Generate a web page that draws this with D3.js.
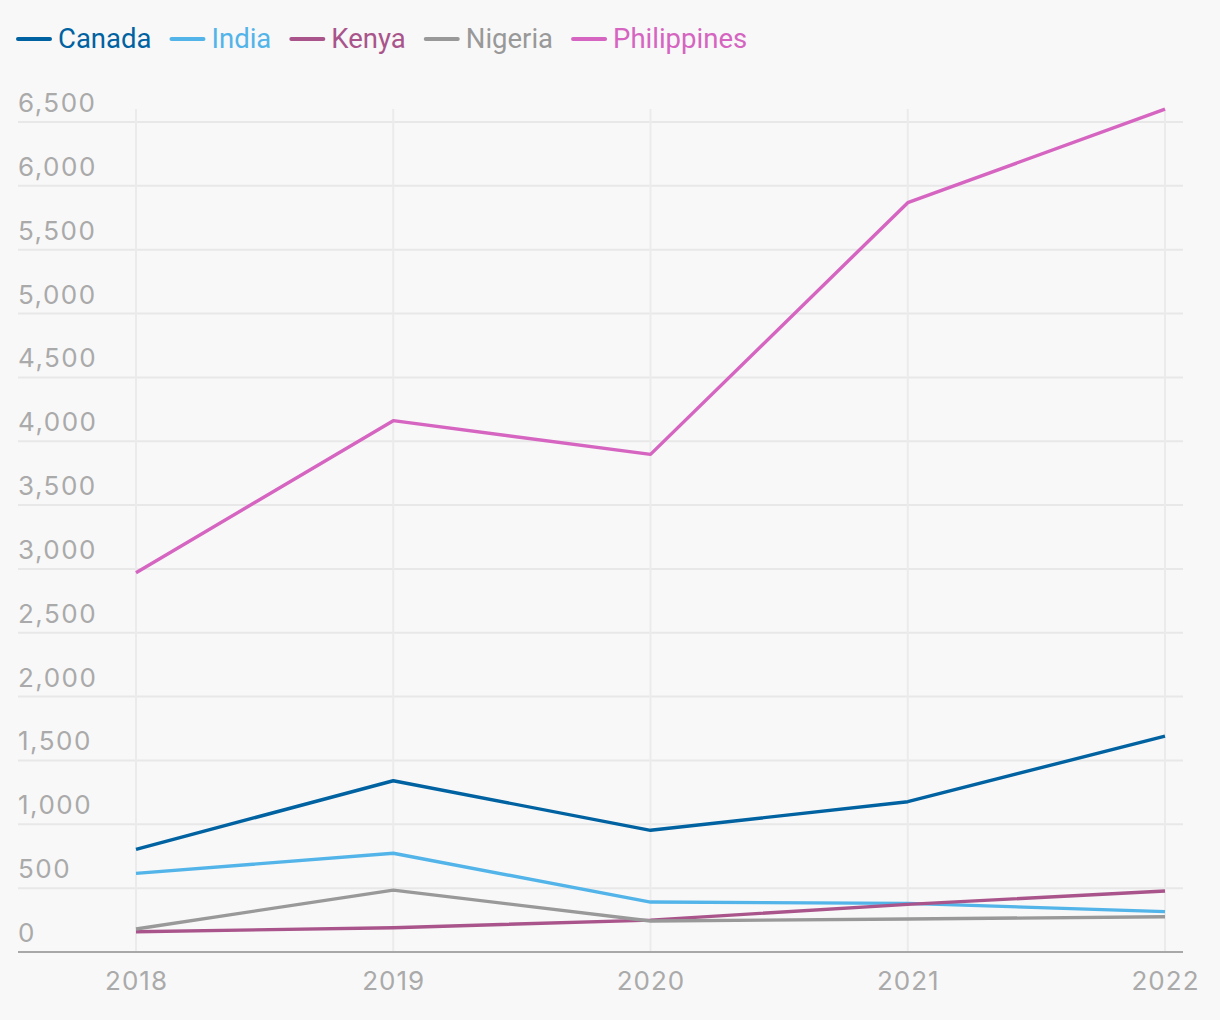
<!DOCTYPE html>
<html><head><meta charset="utf-8">
<script src="https://cdn.jsdelivr.net/npm/d3@7"></script>
<style>
html,body{margin:0;padding:0;background:#f8f8f8;}
svg{display:block;}
</style></head>
<body>
<svg id="chart" width="1220" height="1020"></svg>
<script>
const years = [2018, 2019, 2020, 2021, 2022];
const seriesNames = ["Canada", "India", "Kenya", "Nigeria", "Philippines"];
const canada = [804, 1341, 953, 1177, 1691];
const india = [616, 773, 391, 381, 316];
const kenya = [159, 190, 250, 373, 478];
const nigeria = [180, 485, 243, 258, 276];
const philippines = [2970, 4161, 3897, 5868, 6601];
const yTicks = [0, 500, 1000, 1500, 2000, 2500, 3000, 3500, 4000, 4500, 5000, 5500, 6000, 6500];
const colors = ["#0062a1", "#52b4e9", "#a9558b", "#999999", "#d565c0"];

const seriesValues = [canada, india, kenya, nigeria, philippines];
const series = seriesNames.map((n, i) => ({name: n, color: colors[i], values: years.map((y, j) => ({year: y, value: seriesValues[i][j]}))}));

const svg = d3.select("#chart");
svg.append("rect").attr("width", 1220).attr("height", 1020).attr("fill", "#f8f8f8");

const gridLeft = 18, gridRight = 1183;
const x = d3.scaleLinear().domain([2018, 2022]).range([136, 1165]);
const y = d3.scaleLinear().domain([0, 6500]).range([952, 122]);

const numFont = "Inter, 'Noto Sans', sans-serif";
const legFont = "Roboto, 'Noto Sans', sans-serif";

// horizontal grid
svg.append("g").selectAll("line").data(yTicks.filter(d => d > 0)).join("line")
  .attr("x1", gridLeft).attr("x2", gridRight)
  .attr("y1", d => y(d)).attr("y2", d => y(d))
  .attr("stroke", "#e8e8e8").attr("stroke-width", 2);
// vertical grid
svg.append("g").selectAll("line").data(years).join("line")
  .attr("x1", d => x(d)).attr("x2", d => x(d))
  .attr("y1", 109).attr("y2", 952)
  .attr("stroke", "#ebebeb").attr("stroke-width", 2);

// y labels
svg.append("g").selectAll("text").data(yTicks).join("text")
  .attr("x", gridLeft).attr("y", d => y(d) - 10)
  .attr("font-family", numFont).attr("font-size", 26).attr("letter-spacing", 1.5).attr("fill", "#aaaaaa")
  .text(d => d3.format(",")(d));

// baseline
svg.append("line").attr("x1", gridLeft).attr("x2", gridRight).attr("y1", y(0)).attr("y2", y(0))
  .attr("stroke", "#a8a8a8").attr("stroke-width", 2);

// x labels
const xAxis = d3.axisBottom(x).tickValues(years).tickFormat(d3.format("d")).tickSize(0).tickPadding(0);
const xg = svg.append("g").call(xAxis);
xg.select(".domain").remove();
xg.selectAll("text").attr("y", 990).attr("dy", null)
  .attr("font-family", numFont).attr("font-size", 26).attr("letter-spacing", 1).attr("fill", "#aaaaaa");

// lines
const line = d3.line().x(d => x(d.year)).y(d => y(d.value));
svg.append("g").selectAll("path").data(series).join("path")
  .attr("d", d => line(d.values)).attr("fill", "none")
  .attr("stroke", d => d.color).attr("stroke-width", 3.4)
  .attr("stroke-linejoin", "round");

// legend
const leg = svg.append("g");
let lx = 18;
series.forEach(s => {
  leg.append("line").attr("x1", lx).attr("x2", lx + 32).attr("y1", 39).attr("y2", 39)
    .attr("stroke", s.color).attr("stroke-width", 4).attr("stroke-linecap", "round");
  const t = leg.append("text").attr("x", lx + 40).attr("y", 48)
    .attr("font-family", legFont).attr("font-size", 27.5).attr("fill", s.color).text(s.name);
  lx = lx + 40 + t.node().getComputedTextLength() + 20;
});
</script>
</body></html>
